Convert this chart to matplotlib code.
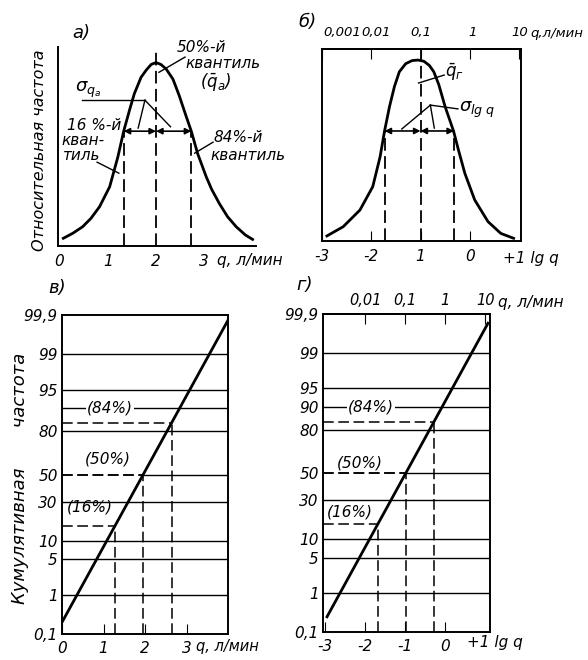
import numpy as np
import matplotlib
matplotlib.use("Agg")
import matplotlib.pyplot as plt
from statistics import NormalDist

# --- panel а: density vs q (л/мин) ---
qa_curve = [0.08, 0.28, 0.48, 0.65, 0.83, 1.04, 1.21, 1.33, 1.45, 1.55, 1.69, 1.80,
            1.90, 2.0, 2.1, 2.21, 2.35, 2.48, 2.62, 2.73, 2.86, 3.04, 3.15, 3.31,
            3.48, 3.66, 3.85, 4.0]
fa_curve = [0.042, 0.07, 0.105, 0.15, 0.214, 0.323, 0.486, 0.626, 0.74, 0.83, 0.92, 0.96,
            0.99, 1.0, 0.99, 0.965, 0.91, 0.82, 0.71, 0.626, 0.505, 0.377, 0.31, 0.232,
            0.16, 0.105, 0.06, 0.036]
qa_quant = [1.33, 2.0, 2.73]          # 16 %, 50 %, 84 %

# --- panel б: density vs lg q ---
lg_curve = [-2.90, -2.57, -2.23, -1.97, -1.82, -1.73, -1.63, -1.53, -1.43, -1.30, -1.17,
            -1.05, -0.93, -0.82, -0.73, -0.63, -0.50, -0.33, -0.23, -0.10, 0.10, 0.37,
            0.63, 0.89]
fg_curve = [0.028, 0.079, 0.171, 0.30, 0.466, 0.608, 0.742, 0.853, 0.935, 0.98, 0.997,
            1.0, 0.993, 0.97, 0.935, 0.865, 0.742, 0.608, 0.503, 0.374, 0.227, 0.107,
            0.042, 0.015]
lg_quant = [-1.73, -1.0, -0.32]
q_top_labels = ["0,001", "0,01", "0,1", "1", "10"]
q_top_pos = [-2.58, -1.90, -1.0, 0.06, 1.02]

# --- panel в: cumulative on probability paper vs q ---
q_line = [0.0, 4.0]
p_line_q = [0.21, 99.86]
q_cum = [1.28, 1.96, 2.64]

# --- panel г: cumulative on probability paper vs lg q ---
lg_line = [-2.95, 1.07]
p_line_lg = [0.26, 99.82]
lg_cum = [-1.68, -0.98, -0.28]

cum_levels = [16, 50, 84]
grid_levels = [1, 5, 10, 30, 80, 90, 95, 99]
prob_ticks = [0.1, 1, 5, 10, 30, 50, 80, 90, 95, 99, 99.9]
prob_labels_v = ["0,1", "1", "5", "10", "30", "50", "80", "", "95", "99", "99,9"]
prob_labels_g = ["0,1", "1", "5", "10", "30", "50", "80", "90", "95", "99", "99,9"]

plt.rcParams["font.family"] = ["DejaVu Sans"]
plt.rcParams["font.style"] = "italic"
plt.rcParams["font.size"] = 11
plt.rcParams["mathtext.fontset"] = "dejavusans"

_nd = NormalDist()


def prob_fwd(p):
    p = np.clip(np.asarray(p, dtype=float), 1e-6, 100 - 1e-6)
    f = lambda v: _nd.inv_cdf(v / 100.0) if np.isfinite(v) else np.nan
    return np.vectorize(f, otypes=[float])(p)


def prob_inv(z):
    z = np.asarray(z, dtype=float)
    return np.vectorize(lambda v: 100.0 * _nd.cdf(v), otypes=[float])(z)


W, H = 588, 660
fig = plt.figure(figsize=(W / 100, H / 100), dpi=100)


def px_axes(l, t, r, b):
    return fig.add_axes([l / W, 1 - b / H, (r - l) / W, (b - t) / H])


def ftext(x, y, s, **kw):
    kw.setdefault("ha", "left")
    kw.setdefault("va", "center")
    fig.text(x / W, 1 - y / H, s, **kw)


DASH = (0, (7, 3))
LW = 2.0

# ================= а) =================
ax = px_axes(58, 47, 256, 246)
ax.plot(qa_curve, fa_curve, color="k", lw=LW, solid_joinstyle="round")
ya = 0.626
ax.plot([qa_quant[0]] * 2, [0, ya], color="k", lw=1.3, ls=DASH)
ax.plot([qa_quant[2]] * 2, [0, ya], color="k", lw=1.3, ls=DASH)
ax.plot([qa_quant[1]] * 2, [0, 1.07], color="k", lw=1.3, ls=DASH)
for x0, x1 in [(qa_quant[1], qa_quant[0]), (qa_quant[1], qa_quant[2])]:
    ax.annotate("", xy=(x1, ya), xytext=(x0, ya),
                arrowprops=dict(arrowstyle="<|-|>", color="k", lw=1.2,
                                mutation_scale=9, shrinkA=0, shrinkB=0))
# sigma leader
ax.plot([0.47, 1.77], [0.795, 0.795], color="k", lw=1.0)
ax.plot([1.77, 1.63], [0.795, 0.643], color="k", lw=1.0)
ax.plot([1.77, 2.30], [0.795, 0.65], color="k", lw=1.0)
ax.text(0.33, 0.85, r"$\sigma_{q_a}$", fontsize=13, va="center")
# 50 % quantile
ax.text(2.43, 1.083, "50%-й", va="center")
ax.text(2.60, 0.996, "квантиль", va="center")
ax.text(2.91, 0.893, r"$(\bar{q}_a)$", va="center", fontsize=12)
ax.plot([2.6, 2.06], [1.03, 0.947], color="k", lw=1.0)
# 16 % quantile
ax.text(0.16, 0.659, "16 %-й", va="center")
ax.text(0.05, 0.577, "кван-", va="center")
ax.text(0.08, 0.495, "тиль", va="center")
ax.plot([0.78, 1.23], [0.457, 0.397], color="k", lw=1.0)
# 84 % quantile
ax.text(3.18, 0.593, "84%-й", va="center")
ax.text(3.12, 0.495, "квантиль", va="center")
ax.plot([3.18, 2.8], [0.566, 0.506], color="k", lw=1.0)

ax.set_xlim(-0.03, 4.07)
ax.set_ylim(0, 1.085)
ax.spines[["top", "right"]].set_visible(False)
for s in ax.spines.values():
    s.set_linewidth(1.4)
ax.set_xticks([0, 1, 2, 3])
ax.set_xticklabels(["0", "1", "2", "3"])
ax.tick_params(axis="x", length=0, pad=6)
ax.set_yticks([])
ftext(217, 260, "q, л/мин")
ftext(40, 150, "Относительная частота", rotation=90, ha="center", fontsize=11.5)
ftext(72, 33, "а)", fontsize=13)

# ================= б) =================
ax = px_axes(322, 49, 521, 241)
ax.plot(lg_curve, fg_curve, color="k", lw=LW, solid_joinstyle="round")
yb = 0.608
ax.plot([lg_quant[0]] * 2, [0, yb], color="k", lw=1.3, ls=DASH)
ax.plot([lg_quant[2]] * 2, [0, yb], color="k", lw=1.3, ls=DASH)
ax.plot([lg_quant[1]] * 2, [0, 1.07], color="k", lw=1.3, ls=DASH)
for x0, x1 in [(lg_quant[1], lg_quant[0]), (lg_quant[1], lg_quant[2])]:
    ax.annotate("", xy=(x1, yb), xytext=(x0, yb),
                arrowprops=dict(arrowstyle="<|-|>", color="k", lw=1.2,
                                mutation_scale=9, shrinkA=0, shrinkB=0))
ax.plot([-0.80, -0.24], [0.751, 0.73], color="k", lw=1.0)
ax.plot([-0.80, -1.38], [0.751, 0.619], color="k", lw=1.0)
ax.plot([-0.80, -0.72], [0.751, 0.624], color="k", lw=1.0)
ax.text(-0.22, 0.725, r"$\sigma_{\lg\, q}$", fontsize=13, va="center")
ax.plot([-0.52, -1.04], [0.917, 0.873], color="k", lw=1.0)
ax.text(-0.5, 0.93, r"$\bar{q}_г$", fontsize=12, va="center")

ax.set_xlim(-2.94, 1.04)
ax.set_ylim(0, 1.061)
for s in ax.spines.values():
    s.set_linewidth(1.4)
ax.set_xticks([-3, -2, -1, 0])
ax.set_xticklabels(["-3", "-2", "1", "0"])
ax.tick_params(axis="x", direction="in", length=7, pad=6)
ax.set_yticks([])
top = ax.secondary_xaxis("top")
top.set_xticks([-3, -2, -1, 0, 1])
top.set_xticklabels([""] * 5)
top.tick_params(direction="in", length=7)
top.spines["top"].set_linewidth(1.4)
for xv, s in zip(q_top_pos, q_top_labels):
    ax.annotate(s, xy=(xv, 1.0), xycoords=("data", "axes fraction"),
                xytext=(0, 7), textcoords="offset points",
                ha="center", va="bottom", fontsize=9.5)
ftext(530, 33, "q,л/мин", fontsize=9.5)
ftext(503, 258, "+1 lg q")
ftext(298, 22, "б)", fontsize=13)


# ================= в) and г) =================
def prob_panel(ax, xs, ps, xq, labels, xlim):
    ax.set_yscale("function", functions=(prob_fwd, prob_inv))
    ax.set_xlim(*xlim)
    ax.set_ylim(0.1, 99.9)
    for lv in grid_levels:
        ax.axhline(lv, color="k", lw=1.0)
    # 50 % line: dashed up to the line, solid beyond
    ax.plot([xlim[0], xq[1]], [50, 50], color="k", lw=1.1, ls=DASH)
    ax.plot([xq[1], xlim[1]], [50, 50], color="k", lw=1.0)
    for xv, lv in zip(xq, cum_levels):
        ax.plot([xlim[0], xv], [lv, lv], color="k", lw=1.1, ls=DASH)
        ax.plot([xv, xv], [0.1, lv], color="k", lw=1.1, ls=DASH)
    ax.plot(xs, ps, color="k", lw=LW)
    ax.set_yticks(prob_ticks)
    ax.set_yticklabels(labels)
    ax.yaxis.set_minor_locator(matplotlib.ticker.NullLocator())
    ax.tick_params(axis="y", length=0, pad=3)
    ax.tick_params(axis="x", direction="in", length=7, pad=5)
    for s in ax.spines.values():
        s.set_linewidth(1.4)


bbox = dict(facecolor="white", edgecolor="none", pad=0.5)

ax = px_axes(62, 315, 228, 634)
prob_panel(ax, q_line, p_line_q, q_cum, prob_labels_v, (0.0, 4.0))
ax.set_xticks([0, 1, 2, 3])
ax.set_xticklabels(["0", "1", "2", "3"])
ax.text(1.16, 90, "(84%)", ha="center", va="center", bbox=bbox)
ax.text(1.11, 61.5, "(50%)", ha="center", va="center")
ax.text(0.67, 26.5, "(16%)", ha="center", va="center")
ftext(196, 647, "q, л/мин", fontsize=10.5)
ftext(20, 478, "Кумулятивная       частота", rotation=90, ha="center", fontsize=13)
ftext(48, 288, "в)", fontsize=13)

ax = px_axes(323, 314, 490, 632)
prob_panel(ax, lg_line, p_line_lg, lg_cum, prob_labels_g, (-3.05, 1.12))
ax.set_xticks([-3, -2, -1, 0])
ax.set_xticklabels(["-3", "-2", "-1", "0"])
top = ax.secondary_xaxis("top")
top.set_xticks([-2, -1, 0, 1])
top.set_xticklabels(["0,01", "0,1", "1", "10"])
top.tick_params(direction="in", length=7, pad=4, labelsize=10.5)
top.spines["top"].set_linewidth(1.4)
ax.text(-1.85, 90, "(84%)", ha="center", va="center", bbox=bbox)
ax.text(-2.13, 58, "(50%)", ha="center", va="center")
ax.text(-2.38, 22.5, "(16%)", ha="center", va="center")
ftext(498, 303, "q, л/мин")
ftext(467, 643, "+1 lg q")
ftext(296, 285, "г)", fontsize=13)

fig.savefig("out.png", dpi=100)
